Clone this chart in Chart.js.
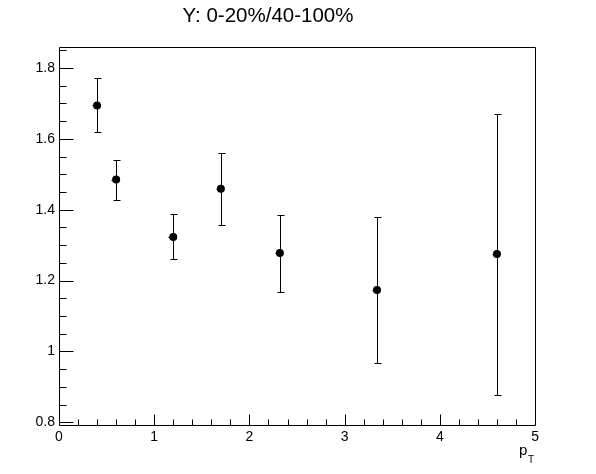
<!DOCTYPE html>
<html>
<head>
<meta charset="utf-8">
<title>Y: 0-20%/40-100%</title>
<script src="https://cdn.jsdelivr.net/npm/chart.js@4/dist/chart.umd.min.js"></script>
<style>
    html, body { margin: 0; padding: 0; background: #ffffff; }
    #ratioChart { display: block; }
</style>
</head>
<body>
<canvas id="ratioChart" width="596" height="474"></canvas>
<script>
// ====================================================
// Data (pT bins, ratio and error bar ends)
// ====================================================
const ptValues    = [0.40, 0.60, 1.20, 1.70, 2.32, 3.34, 4.60];
const ratioValues = [1.694, 1.485, 1.323, 1.459, 1.278, 1.173, 1.275];
const errorHigh   = [1.771, 1.541, 1.388, 1.560, 1.384, 1.380, 1.670];
const errorLow    = [1.618, 1.428, 1.261, 1.357, 1.167, 0.966, 0.876];

// axis labels
const xTickLabels = [0, 1, 2, 3, 4, 5];
const yTickLabels = [0.8, 1, 1.2, 1.4, 1.6, 1.8];

const FONT = '"Liberation Sans", Arial, Helvetica, sans-serif';

// ====================================================
// Error bars, drawn under the markers
// ====================================================
const errorBarPlugin = {
    id: 'errorBars',
    beforeDatasetsDraw(chart) {
        const ctx = chart.ctx;
        const xs = chart.scales.x;
        const ys = chart.scales.y;
        ctx.save();
        ctx.strokeStyle = '#000000';
        ctx.lineWidth = 1;
        ctx.beginPath();
        for (let i = 0; i < ptValues.length; i++) {
            const px = Math.round(xs.getPixelForValue(ptValues[i])) + 0.5;
            const top = Math.round(ys.getPixelForValue(errorHigh[i])) + 0.5;
            const bot = Math.round(ys.getPixelForValue(errorLow[i])) + 0.5;
            ctx.moveTo(px, top);
            ctx.lineTo(px, bot);
            // little caps at both ends
            ctx.moveTo(px - 3, top);
            ctx.lineTo(px + 4, top);
            ctx.moveTo(px - 3, bot);
            ctx.lineTo(px + 4, bot);
            // small stub to the left of the marker
            const py = Math.round(ys.getPixelForValue(ratioValues[i])) + 0.5;
            ctx.moveTo(px - 5, py);
            ctx.lineTo(px, py);
        }
        ctx.stroke();
        ctx.restore();
    }
};

// ====================================================
// ROOT style frame: box + inward ticks + pT title
// ====================================================
const framePlugin = {
    id: 'rootFrame',
    afterDraw(chart) {
        const ctx = chart.ctx;
        const area = chart.chartArea;
        const xs = chart.scales.x;
        const ys = chart.scales.y;
        const left = area.left + 0.5;
        const right = area.right - 0.5;
        const top = area.top + 0.5;
        const bottom = area.bottom - 0.5;

        ctx.save();
        ctx.strokeStyle = '#000000';
        ctx.lineWidth = 1;
        ctx.beginPath();
        ctx.rect(left, top, right - left, bottom - top);

        // y ticks: majors every 0.2, minors every 0.05
        for (let k = 0; k <= 24; k++) {
            const v = 0.75 + k * 0.05;
            if (v < ys.min || v > ys.max) continue;
            const py = Math.round(ys.getPixelForValue(v)) + 0.5;
            const isMajor = yTickLabels.some(t => Math.abs(t - v) < 1e-6);
            ctx.moveTo(left, py);
            ctx.lineTo(left + (isMajor ? 14 : 7), py);
        }

        // x ticks: majors every 1, minors every 0.2
        for (let k = 0; k <= 25; k++) {
            const v = k * 0.2;
            if (v < xs.min || v > xs.max) continue;
            const px = Math.round(xs.getPixelForValue(v)) + 0.5;
            const isMajor = xTickLabels.some(t => Math.abs(t - v) < 1e-6);
            ctx.moveTo(px, bottom);
            ctx.lineTo(px, bottom - (isMajor ? 11 : 6));
        }
        ctx.stroke();

        // axis title p_T at the right end
        ctx.fillStyle = '#000000';
        ctx.textBaseline = 'alphabetic';
        ctx.textAlign = 'left';
        ctx.font = '15px ' + FONT;
        ctx.fillText('p', 519, 455);
        ctx.font = '10px ' + FONT;
        ctx.fillText('T', 528, 463);
        ctx.restore();
    }
};

// ====================================================
// Build the chart
// ====================================================
function initializeChart() {
    const canvas = document.getElementById('ratioChart');
    const points = ptValues.map((x, i) => ({ x: x, y: ratioValues[i] }));

    Chart.defaults.font.family = FONT;
    Chart.defaults.color = '#000000';

    new Chart(canvas, {
        type: 'scatter',
        data: {
            datasets: [{
                label: 'ratio',
                data: points,
                pointStyle: 'circle',
                pointRadius: 4,
                pointBackgroundColor: '#000000',
                pointBorderColor: '#000000',
                pointBorderWidth: 0,
                showLine: false
            }]
        },
        options: {
            responsive: false,
            animation: false,
            layout: {
                padding: { left: 0, right: 60, top: 0, bottom: 0 }
            },
            plugins: {
                legend: { display: false },
                tooltip: { enabled: false },
                title: {
                    display: true,
                    text: 'Y: 0-20%/40-100%',
                    color: '#000000',
                    font: { size: 20.5, weight: 'normal', family: FONT, lineHeight: 1.2 },
                    padding: { top: 4, bottom: 18.4 }
                }
            },
            scales: {
                x: {
                    type: 'linear',
                    min: 0,
                    max: 5.01,
                    grid: { display: false, drawTicks: false },
                    border: { display: false },
                    afterBuildTicks(scale) {
                        scale.ticks = xTickLabels.map(v => ({ value: v }));
                    },
                    afterFit(scale) {
                        scale.height = 48;
                    },
                    ticks: {
                        padding: 3,
                        maxRotation: 0,
                        font: { size: 14, family: FONT },
                        callback: v => String(v)
                    }
                },
                y: {
                    type: 'linear',
                    min: 0.7895,
                    max: 1.859,
                    grid: { display: false, drawTicks: false },
                    border: { display: false },
                    afterBuildTicks(scale) {
                        scale.ticks = yTickLabels.map(v => ({ value: v }));
                    },
                    afterFit(scale) {
                        scale.width = 59;
                    },
                    ticks: {
                        padding: 4,
                        font: { size: 14, family: FONT },
                        callback: v => String(v)
                    }
                }
            }
        },
        plugins: [errorBarPlugin, framePlugin]
    });
}

document.addEventListener('DOMContentLoaded', () => {
    initializeChart();
});
</script>
</body>
</html>
